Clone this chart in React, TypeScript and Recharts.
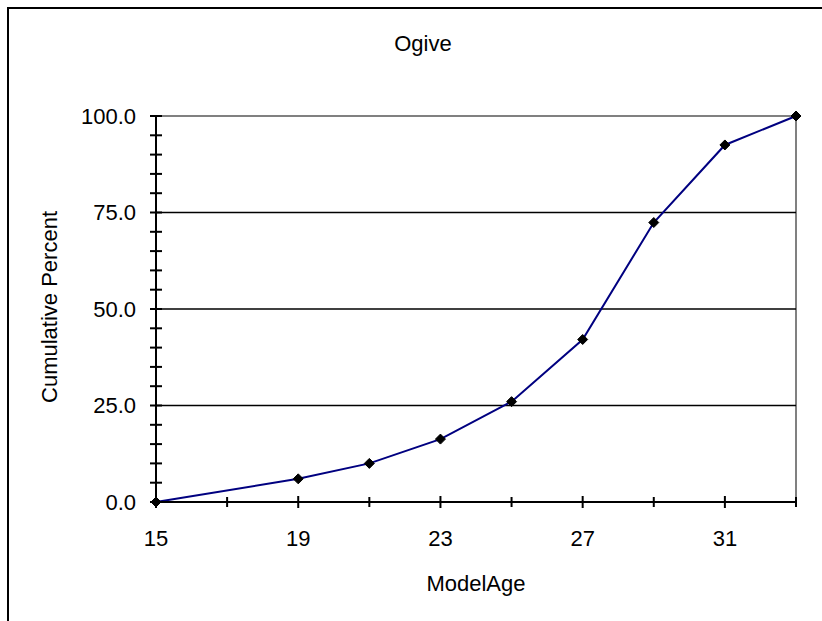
import { LineChart, Line, XAxis, YAxis, ReferenceLine } from "recharts"

const ages = [15, 19, 21, 23, 25, 27, 29, 31, 33]
const cumulativePercent = [0, 6, 10, 16.3, 26, 42.1, 72.4, 92.5, 100]

const xTicks = [15, 17, 19, 21, 23, 25, 27, 29, 31, 33]
const xLabelTicks = [15, 19, 23, 27, 31]
const yTicks = [0, 5, 10, 15, 20, 25, 30, 35, 40, 45, 50, 55, 60, 65, 70, 75, 80, 85, 90, 95, 100]
const yLabelTicks = [0, 25, 50, 75, 100]
const gridValues = [25, 50, 75]

const data = ages.map((age, i) => ({ age, pct: cumulativePercent[i] }))

const FONT = "'Liberation Sans', Arial, sans-serif"

function XTick(props: any) {
  const { x, y, payload } = props
  const axisY = y - 28
  const major = xLabelTicks.includes(payload.value)
  const h = major ? 6 : 5
  return (
    <g>
      <line x1={x} x2={x} y1={axisY - h} y2={axisY + h} stroke="#000" strokeWidth={2} />
      {major && (
        <text x={x} y={y} dy="0.71em" textAnchor="middle" fontSize={22} fontFamily={FONT} fill="#000">
          {payload.value}
        </text>
      )}
    </g>
  )
}

function YTick(props: any) {
  const { x, y, payload } = props
  const axisX = x + 20
  const major = yLabelTicks.includes(payload.value)
  return (
    <g>
      <line x1={axisX - 6} x2={axisX + 6} y1={y} y2={y} stroke="#000" strokeWidth={2} />
      {major && (
        <text x={x} y={y} dy="0.355em" textAnchor="end" fontSize={22} fontFamily={FONT} fill="#000">
          {payload.value.toFixed(1)}
        </text>
      )}
    </g>
  )
}

function Diamond(props: any) {
  const { cx, cy, index } = props
  const r = 5
  return (
    <path
      key={index}
      d={`M${cx},${cy - r} L${cx + r},${cy} L${cx},${cy + r} L${cx - r},${cy} Z`}
      fill="#000"
      stroke="#000"
    />
  )
}

export default function App() {
  return (
    <div style={{ position: "fixed", left: 0, top: 0, width: 822, height: 621, overflow: "hidden", background: "#fff" }}>
      <div
        style={{
          position: "absolute",
          left: 7,
          top: 7,
          width: 860,
          height: 700,
          border: "2px solid #000",
        }}
      />
      <div style={{ position: "absolute", left: 0, top: 0 }}>
        <LineChart
          width={822}
          height={621}
          data={data}
          margin={{ top: 116, right: 26, bottom: 59, left: 0 }}
        >
          <ReferenceLine y={100} stroke="#808080" strokeWidth={2} ifOverflow="extendDomain" />
          <ReferenceLine x={33} stroke="#808080" strokeWidth={2} />
          {gridValues.map((v) => (
            <ReferenceLine key={v} y={v} stroke="#000" strokeWidth={1.5} />
          ))}
          <XAxis
            dataKey="age"
            type="number"
            domain={[15, 33]}
            ticks={xTicks}
            interval={0}
            height={60}
            tickSize={0}
            tickMargin={28}
            tickLine={false}
            axisLine={{ stroke: "#000", strokeWidth: 2 }}
            tick={<XTick />}
          />
          <YAxis
            type="number"
            domain={[0, 100]}
            ticks={yTicks}
            interval={0}
            width={156}
            tickSize={0}
            tickMargin={20}
            tickLine={false}
            axisLine={{ stroke: "#000", strokeWidth: 2 }}
            tick={<YTick />}
          />
          <Line
            dataKey="pct"
            type="linear"
            stroke="#000080"
            strokeWidth={2}
            dot={<Diamond />}
            activeDot={false}
            isAnimationActive={false}
          />
        </LineChart>
      </div>
      <svg
        width={822}
        height={621}
        style={{ position: "absolute", left: 0, top: 0, pointerEvents: "none" }}
        fontFamily={FONT}
        fontSize={22}
      >
        <text x={423} y={51} textAnchor="middle" fill="#000">Ogive</text>
        <text x={476} y={591} textAnchor="middle" fill="#000">ModelAge</text>
        <text transform="translate(57,307) rotate(-90)" textAnchor="middle" fill="#000">Cumulative Percent</text>
      </svg>
    </div>
  )
}
